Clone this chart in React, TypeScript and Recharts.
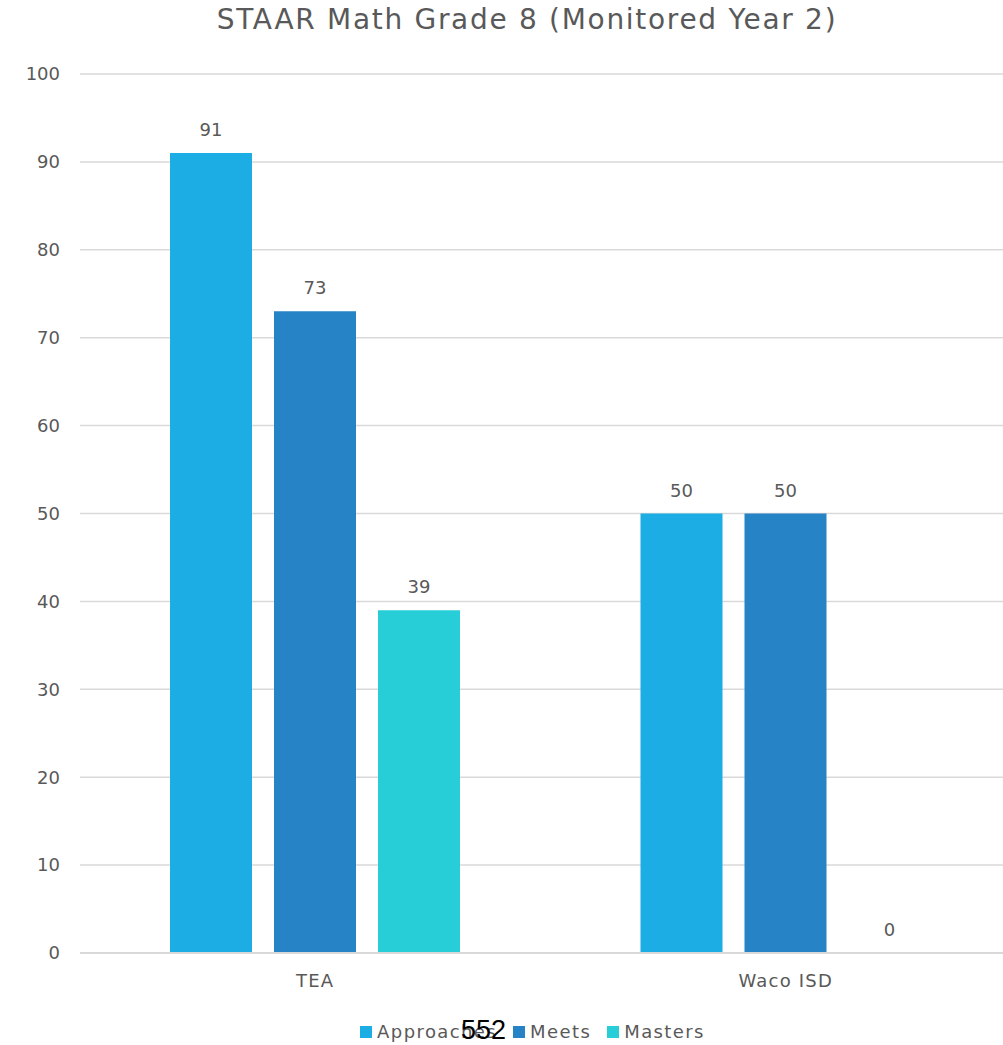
import { BarChart, Bar, XAxis, YAxis, CartesianGrid, Legend, LabelList } from 'recharts';

const categories = ['TEA', 'Waco ISD'];
const approaches = [91, 50];
const meets = [73, 50];
const masters = [39, 0];
const yTicks = [0, 10, 20, 30, 40, 50, 60, 70, 80, 90, 100];

const data = categories.map((name, i) => ({
    name,
    Approaches: approaches[i],
    Meets: meets[i],
    Masters: masters[i],
}));

const FONT = '"DejaVu Sans", sans-serif';
const TEXT = '#595959';

const series = [
    { key: 'Approaches', color: '#1CADE4' },
    { key: 'Meets', color: '#2683C6' },
    { key: 'Masters', color: '#27CED7' },
];

// custom legend so the squares and spacing match the original
function LegendRow() {
    return (
        <div style={{ display: 'flex', justifyContent: 'center', gap: 16, fontFamily: FONT, fontSize: 18, letterSpacing: 1.4, color: TEXT, paddingLeft: 62 }}>
            {series.map((s) => (
                <div key={s.key} style={{ display: 'flex', alignItems: 'center', gap: 5 }}>
                    <span style={{ width: 12, height: 12, background: s.color, display: 'inline-block' }} />
                    <span>{s.key}</span>
                </div>
            ))}
        </div>
    );
}

export default function App() {
    return (
        <div style={{ position: 'absolute', left: 0, top: 0, width: 1003, height: 1045, overflow: 'hidden', background: '#fff' }}>
            <div
                style={{
                    position: 'absolute',
                    top: 3,
                    left: 0,
                    width: 1054,
                    textAlign: 'center',
                    fontFamily: FONT,
                    fontSize: 28,
                    letterSpacing: 1.7,
                    color: TEXT,
                    whiteSpace: 'nowrap',
                }}
            >
                STAAR Math Grade 8 (Monitored Year 2)
            </div>
            <BarChart
                width={1021}
                height={1045}
                data={data}
                margin={{ top: 74, right: 0, left: 0, bottom: 0 }}
                barSize={82}
                barGap={22}
            >
                <CartesianGrid vertical={false} stroke="#d9d9d9" strokeWidth={1.5} />
                <XAxis
                    dataKey="name"
                    height={40}
                    tickLine={false}
                    axisLine={{ stroke: '#d9d9d9', strokeWidth: 2 }}
                    tickMargin={15}
                    tick={{ fill: TEXT, fontSize: 18, fontFamily: FONT, letterSpacing: 1.2 }}
                />
                <YAxis
                    width={80}
                    domain={[0, 100]}
                    ticks={yTicks}
                    interval={0}
                    tickLine={false}
                    axisLine={false}
                    tickMargin={14}
                    tick={{ fill: TEXT, fontSize: 18, fontFamily: FONT }}
                />
                <Legend
                    height={52}
                    verticalAlign="bottom"
                    content={() => <LegendRow />}
                    wrapperStyle={{ top: 1021, left: 0, width: 1003 }}
                />
                {series.map((s) => (
                    <Bar key={s.key} dataKey={s.key} fill={s.color} minPointSize={0.01} isAnimationActive={false}>
                        <LabelList dataKey={s.key} position="top" offset={17} fill={TEXT} fontSize={18} fontFamily={FONT} />
                    </Bar>
                ))}
            </BarChart>
            <div
                style={{
                    position: 'absolute',
                    left: 461,
                    top: 1015,
                    fontFamily: '"Liberation Sans", Arial, sans-serif',
                    fontSize: 27,
                    color: '#000',
                }}
            >
                552
            </div>
        </div>
    );
}
